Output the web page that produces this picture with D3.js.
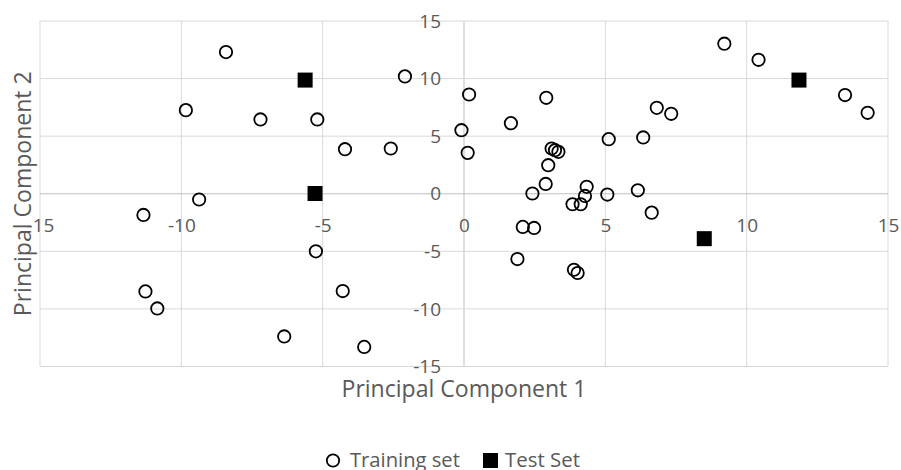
<!DOCTYPE html>
<html>
<head>
<meta charset="utf-8">
<script src="https://cdn.jsdelivr.net/npm/d3@7"></script>
<style>
  body { margin: 0; background: #fff; }
  text { font-family: "Open Sans", Lato, sans-serif; fill: #595959; }
</style>
</head>
<body>
<svg width="901" height="470"></svg>
<script>
// chart data
const trainX = [-8.42, -9.84, -7.2, -9.37, -11.34, -11.27, -10.85, -6.36, -5.19, -4.21,
  -2.59, -2.09, 0.18, -0.09, 0.13, 1.66, 2.91, 3.1, 3.22, 3.34, 2.98, 2.89, 2.42,
  4.34, 4.28, 3.84, 4.13, 2.08, 2.48, 1.89, 3.89, 4.02, -5.24, -4.29, -3.53,
  5.12, 6.34, 6.82, 7.33, 9.21, 10.42, 13.48, 14.28, 5.07, 6.15, 6.64];
const trainY = [12.3, 7.26, 6.45, -0.5, -1.84, -8.48, -9.96, -12.39, 6.45, 3.87,
  3.93, 10.19, 8.62, 5.52, 3.55, 6.13, 8.33, 3.93, 3.78, 3.64, 2.48, 0.85, 0.02,
  0.6, -0.19, -0.91, -0.91, -2.88, -2.97, -5.67, -6.6, -6.88, -5.0, -8.45, -13.3,
  4.74, 4.89, 7.46, 6.94, 13.03, 11.63, 8.57, 7.03, -0.07, 0.3, -1.64];
const testX = [-5.62, -5.27, 11.85, 8.5];
const testY = [9.87, 0.02, 9.87, -3.9];
const ticks = [-15, -10, -5, 0, 5, 10, 15];
const seriesNames = ["Training set", "Test Set"];

const svg = d3.select("svg");
const plotLeft = 40, plotRight = 888, plotTop = 21, plotBottom = 366.5;

const x = d3.scaleLinear().domain([-15, 15]).range([plotLeft, plotRight]);
const y = d3.scaleLinear().domain([-15, 15]).range([plotBottom, plotTop]);

// shrink/grow a text so it spans the given width (no Calibri here)
function fitWidth(sel, w, base) {
  sel.style("font-size", base + "px");
  const len = sel.node().getComputedTextLength();
  sel.style("font-size", (base * w / len).toFixed(2) + "px");
  return sel;
}

// gridlines
svg.append("g").selectAll("line")
  .data(ticks)
  .join("line")
  .attr("x1", d => x(d)).attr("x2", d => x(d))
  .attr("y1", plotTop).attr("y2", plotBottom)
  .attr("stroke", d => d === 0 ? "#bfbfbf" : "#d9d9d9")
  .attr("stroke-width", 1);
svg.append("g").selectAll("line")
  .data(ticks)
  .join("line")
  .attr("y1", d => y(d)).attr("y2", d => y(d))
  .attr("x1", plotLeft).attr("x2", plotRight)
  .attr("stroke", d => d === 0 ? "#bfbfbf" : "#d9d9d9")
  .attr("stroke-width", 1);

// axes crossing at zero
const fmt = d => String(d);
const xAxis = svg.append("g")
  .attr("transform", `translate(0,${y(0)})`)
  .call(d3.axisBottom(x).tickValues(ticks).tickFormat(fmt).tickSize(0).tickPadding(25));
const yAxis = svg.append("g")
  .attr("transform", `translate(${x(0)},0)`)
  .call(d3.axisLeft(y).tickValues(ticks).tickFormat(fmt).tickSize(0).tickPadding(23));
[xAxis, yAxis].forEach(a => {
  a.select(".domain").remove();
  a.selectAll("text")
    .attr("fill", "#595959")
    .style("font-family", "'Open Sans', Lato, sans-serif")
    .style("font-size", "19px");
});

// points
svg.append("g").selectAll("circle")
  .data(trainX.map((d, i) => [d, trainY[i]]))
  .join("circle")
  .attr("cx", d => x(d[0]))
  .attr("cy", d => y(d[1]))
  .attr("r", 6.2)
  .attr("fill", "none")
  .attr("stroke", "#000")
  .attr("stroke-width", 1.8);

const sq = 15;
svg.append("g").selectAll("rect")
  .data(testX.map((d, i) => [d, testY[i]]))
  .join("rect")
  .attr("x", d => x(d[0]) - sq / 2)
  .attr("y", d => y(d[1]) - sq / 2)
  .attr("width", sq).attr("height", sq)
  .attr("fill", "#000");

// axis titles
const xTitle = svg.append("text")
  .attr("x", x(0)).attr("y", 396.5)
  .attr("text-anchor", "middle")
  .text("Principal Component 1");
fitWidth(xTitle, 245, 20);
const yTitle = svg.append("text")
  .attr("transform", `translate(31,${(plotTop + plotBottom) / 2}) rotate(-90)`)
  .attr("text-anchor", "middle")
  .text("Principal Component 2");
fitWidth(yTitle, 245, 20);

// legend
const legend = svg.append("g");
legend.append("circle")
  .attr("cx", 333).attr("cy", 460.5).attr("r", 6.2)
  .attr("fill", "none").attr("stroke", "#000").attr("stroke-width", 1.8);
fitWidth(legend.append("text")
  .attr("x", 350).attr("y", 467)
  .text(seriesNames[0]), 110, 20);
legend.append("rect")
  .attr("x", 483).attr("y", 453).attr("width", 15).attr("height", 15)
  .attr("fill", "#000");
fitWidth(legend.append("text")
  .attr("x", 505).attr("y", 467)
  .text(seriesNames[1]), 75, 20);
</script>
</body>
</html>
